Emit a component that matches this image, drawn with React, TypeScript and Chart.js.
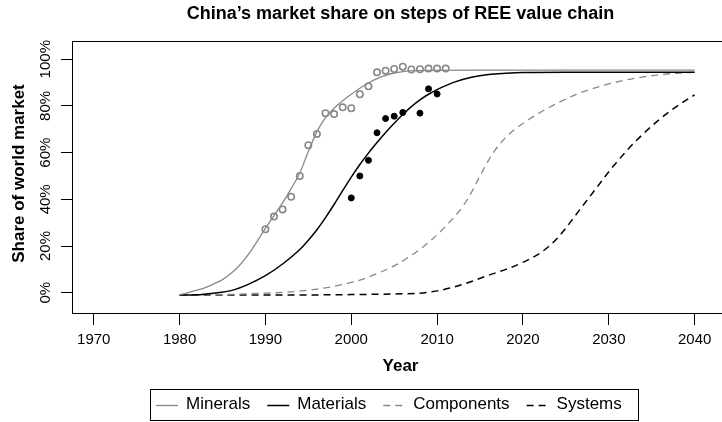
import React, { useEffect, useRef } from 'react';
import { Chart, registerables } from 'chart.js';

Chart.register(...registerables);

// ---- data ----
const mineralObsYears = [1990, 1991, 1992, 1993, 1994, 1995, 1996, 1997, 1998, 1999, 2000, 2001, 2002, 2003, 2004, 2005, 2006, 2007, 2008, 2009, 2010, 2011];
const mineralObs = [27.2, 32.6, 35.7, 41.1, 50.0, 63.2, 68.0, 76.9, 76.5, 79.4, 79.0, 85.0, 88.4, 94.4, 95.1, 95.8, 96.8, 95.6, 95.7, 96.0, 96.0, 96.0];

const materialObsYears = [2000, 2001, 2002, 2003, 2004, 2005, 2006, 2008, 2009, 2010];
const materialObs = [40.6, 50.0, 56.7, 68.5, 74.6, 75.6, 77.2, 76.9, 87.3, 85.1];

const mineralCurveYears = [1980, 1981, 1982, 1983, 1984, 1985, 1986, 1987, 1988, 1989, 1990, 1991, 1992, 1993, 1994, 1995, 1996, 1997, 1998, 1999, 2000, 2001, 2002, 2003, 2004, 2005, 2006, 2007, 2008, 2010, 2015, 2020, 2025, 2030, 2035, 2040];
const mineralCurve = [-1, 0.1, 1.1, 2.2, 3.8, 5.6, 8.3, 11.8, 16.3, 21.8, 27.6, 33.0, 38.5, 44.6, 51.3, 60.5, 69.0, 75.0, 79.0, 82.2, 85.0, 87.6, 89.8, 91.7, 93.1, 94.1, 94.7, 95.0, 95.1, 95.2, 95.3, 95.3, 95.3, 95.3, 95.3, 95.3];

const materialCurveYears = [1980, 1982, 1984, 1986, 1988, 1990, 1992, 1994, 1995, 1996, 1997, 1998, 1999, 2000, 2001, 2002, 2003, 2004, 2005, 2006, 2007, 2008, 2009, 2010, 2012, 2014, 2016, 2018, 2020, 2025, 2030, 2035, 2040];
const materialCurve = [-1, -0.9, -0.2, 0.9, 3.6, 7.3, 12.3, 18.5, 22.5, 27.0, 32.2, 37.8, 43.7, 49.5, 54.9, 59.8, 64.3, 68.6, 72.6, 76.3, 79.7, 82.6, 85.0, 87.0, 90.2, 92.3, 93.5, 94.0, 94.3, 94.4, 94.4, 94.4, 94.4];

const componentCurveYears = [1980, 1985, 1990, 1993, 1995, 1997, 1999, 2001, 2003, 2005, 2007, 2009, 2011, 2013, 2014, 2015, 2016, 2017, 2018, 2019, 2020, 2022, 2024, 2026, 2028, 2030, 2032, 2034, 2036, 2038, 2040];
const componentCurve = [-1, -0.8, -0.2, 0.4, 1.1, 2.1, 3.5, 5.4, 8.2, 11.5, 16.0, 21.5, 28.5, 37.0, 43.0, 50.0, 56.8, 62.3, 66.5, 69.8, 72.5, 77.2, 81.2, 84.6, 87.3, 89.4, 91.1, 92.4, 93.4, 94.0, 94.4];

const systemCurveYears = [1980, 1990, 2000, 2005, 2008, 2010, 2012, 2014, 2016, 2018, 2020, 2022, 2023, 2024, 2025, 2026, 2027, 2028, 2029, 2030, 2031, 2032, 2033, 2034, 2035, 2036, 2037, 2038, 2039, 2040];
const systemCurve = [-1, -1, -0.8, -0.5, -0.2, 0.8, 2.5, 4.8, 7.5, 10.0, 13.0, 17.0, 19.8, 23.3, 27.7, 32.6, 37.4, 42.2, 47.0, 51.8, 56.3, 60.5, 64.4, 68.0, 71.4, 74.5, 77.4, 80.0, 82.5, 84.7];

const xTicks = [1970, 1980, 1990, 2000, 2010, 2020, 2030, 2040];
const yTicks = [0, 20, 40, 60, 80, 100];
const seriesNames = ['Minerals', 'Materials', 'Components', 'Systems'];

const TITLE = 'China\u2019s market share on steps of REE value chain';
const X_TITLE = 'Year';
const Y_TITLE = 'Share of world market';

// ---- style ----
const FONT = '"Liberation Sans", Arial, Helvetica, sans-serif';
const GRAY = '#888888';
const DASH = [7, 5];

const pts = (xs: number[], ys: number[]) => xs.map((x, i) => ({ x, y: ys[i] }));

export default function App() {
  const ref = useRef<HTMLCanvasElement>(null);

  useEffect(() => {
    const canvas = ref.current;
    if (!canvas) return;

    const decor = {
      id: 'decor',
      afterDraw(chart: any) {
        const { ctx, chartArea: a } = chart;
        ctx.save();
        // plot box
        ctx.strokeStyle = '#000';
        ctx.lineWidth = 1;
        ctx.setLineDash([]);
        ctx.strokeRect(Math.round(a.left) + 0.5, Math.round(a.top) + 0.5, Math.round(a.right - a.left), Math.round(a.bottom - a.top) - 1);

        ctx.fillStyle = '#000';
        // title
        ctx.font = `bold 18px ${FONT}`;
        ctx.textAlign = 'center';
        ctx.textBaseline = 'middle';
        ctx.fillText(TITLE, (a.left + a.right) / 2, 14);

        // y tick labels (rotated, as in R)
        const ys = chart.scales.y;
        ctx.font = `15px ${FONT}`;
        ys.ticks.forEach((t: any) => {
          const py = ys.getPixelForValue(t.value);
          ctx.save();
          ctx.translate(46, py);
          ctx.rotate(-Math.PI / 2);
          ctx.fillText(`${t.value}%`, 0, 0);
          ctx.restore();
        });

        // y title
        ctx.font = `bold 17px ${FONT}`;
        ctx.save();
        ctx.translate(19, (a.top + a.bottom) / 2 - 4);
        ctx.rotate(-Math.PI / 2);
        ctx.fillText(Y_TITLE, 0, 0);
        ctx.restore();

        // legend
        const lgLeft = 150, lgRight = 638, lgTop = 389, lgBottom = 420;
        const cy = (lgTop + lgBottom) / 2;
        ctx.strokeStyle = '#000';
        ctx.lineWidth = 1;
        ctx.strokeRect(lgLeft + 0.5, lgTop + 0.5, lgRight - lgLeft, lgBottom - lgTop);
        ctx.font = `17px ${FONT}`;
        ctx.textAlign = 'left';
        let x = lgLeft + 6;
        const lineDs = chart.data.datasets.filter((d: any) => d.isCurve);
        lineDs.forEach((d: any) => {
          ctx.save();
          ctx.strokeStyle = d.borderColor;
          ctx.lineWidth = d.borderWidth;
          ctx.setLineDash(d.borderDash || []);
          ctx.beginPath();
          ctx.moveTo(x, Math.round(cy) + 0.5);
          ctx.lineTo(x + 22, Math.round(cy) + 0.5);
          ctx.stroke();
          ctx.restore();
          x += 30;
          ctx.fillStyle = '#000';
          ctx.fillText(d.label, x, cy);
          x += ctx.measureText(d.label).width + 17;
        });
        ctx.restore();
      },
    };

    const chart = new Chart(canvas, {
      type: 'line',
      data: {
        datasets: [
          {
            label: 'Minerals (observed)', data: pts(mineralObsYears, mineralObs), showLine: false,
            pointRadius: 3.2, pointBorderWidth: 1.6, pointBorderColor: GRAY, pointBackgroundColor: 'rgba(0,0,0,0)',
            borderColor: GRAY, order: 1,
          },
          {
            label: 'Materials (observed)', data: pts(materialObsYears, materialObs), showLine: false,
            pointRadius: 3, pointBorderWidth: 1, pointBorderColor: '#000', pointBackgroundColor: '#000',
            borderColor: '#000', order: 1,
          },
          {
            label: seriesNames[0], isCurve: true, data: pts(mineralCurveYears, mineralCurve),
            borderColor: GRAY, borderWidth: 1.3, pointRadius: 0, cubicInterpolationMode: 'monotone', order: 2,
          },
          {
            label: seriesNames[1], isCurve: true, data: pts(materialCurveYears, materialCurve),
            borderColor: '#000', borderWidth: 1.5, pointRadius: 0, cubicInterpolationMode: 'monotone', order: 2,
          },
          {
            label: seriesNames[2], isCurve: true, data: pts(componentCurveYears, componentCurve),
            borderColor: GRAY, borderWidth: 1.3, borderDash: DASH, pointRadius: 0, cubicInterpolationMode: 'monotone', order: 3,
          },
          {
            label: seriesNames[3], isCurve: true, data: pts(systemCurveYears, systemCurve),
            borderColor: '#000', borderWidth: 1.5, borderDash: DASH, pointRadius: 0, cubicInterpolationMode: 'monotone', order: 3,
          },
        ] as any,
      },
      options: {
        animation: false,
        responsive: false,
        maintainAspectRatio: false,
        layout: { padding: { top: 41, right: 71, bottom: 44, left: 0 } },
        plugins: { legend: { display: false }, title: { display: false }, tooltip: { enabled: false } },
        scales: {
          x: {
            type: 'linear',
            min: 1967.47,
            max: 2044,
            afterBuildTicks: (s: any) => { s.ticks = xTicks.map((v) => ({ value: v })); },
            afterFit: (s: any) => { s.height = 64; },
            grid: { display: true, drawOnChartArea: false, drawTicks: true, tickLength: 11, color: '#000', lineWidth: 1 },
            border: { display: false },
            ticks: { font: { family: FONT, size: 15 }, color: '#000', padding: 6, maxRotation: 0, minRotation: 0, autoSkip: false, callback: (v: any) => String(v) },
            title: { display: true, text: X_TITLE, font: { family: FONT, size: 17, weight: 'bold' }, color: '#000', padding: { top: 0, bottom: 1 } },
          },
          y: {
            type: 'linear',
            min: -9.1,
            max: 107.8,
            afterBuildTicks: (s: any) => { s.ticks = yTicks.map((v) => ({ value: v })); },
            afterFit: (s: any) => { s.width = 72; },
            grid: { display: true, drawOnChartArea: false, drawTicks: true, tickLength: 11, color: '#000', lineWidth: 1 },
            border: { display: false },
            ticks: { display: false },
          },
        },
      } as any,
      plugins: [decor],
    });

    return () => chart.destroy();
  }, []);

  return (
    <div style={{ position: 'fixed', left: 0, top: 0, width: 722, height: 422, overflow: 'hidden', background: '#fff' }}>
      <canvas ref={ref} width={800} height={422} style={{ display: 'block', width: 800, height: 422 }} />
    </div>
  );
}
